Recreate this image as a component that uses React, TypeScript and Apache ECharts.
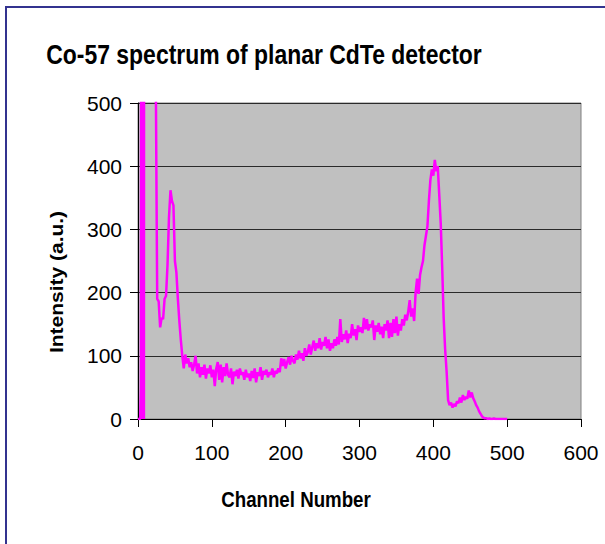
import React, { useEffect, useRef } from "react";
import * as echarts from "echarts";

const chartTitle = "Co-57 spectrum of planar CdTe detector";
const xAxisTitle = "Channel Number";
const yAxisTitle = "Intensity (a.u.)";

const xTicks = [0, 100, 200, 300, 400, 500, 600];
const yTicks = [0, 100, 200, 300, 400, 500];

// low-energy noise burst, channel by channel
const burstChannels = [0, 1, 2, 3, 4, 5, 6, 7, 8, 9, 10, 11, 12];
const burstCounts = [0, 0, 0, 0, 50, 3000, 0, 3000, 0, 3000, 2800, 2600, 2400];

// remaining spectrum sampled every 2 channels, starting at channel 14
const spectrumStart = 14;
const channelStep = 2;
const counts = [
  2100, 1900, 1700, 1500, 1400, 560,
  190, 186, 145, 160, 158, 190, 195, 245, 320, 362, 345, 338, 250,
  232, 190, 155, 125, 100, 80, 102, 88, 96, 82, 90, 76, 86, 100,
  72, 88, 66, 82, 70, 86, 64, 80, 72, 85, 66, 78, 52, 80, 90,
  62, 86, 58, 82, 68, 88, 70, 66, 80, 55, 75, 68, 78, 64, 80,
  70, 74, 62, 78, 66, 72, 60, 76, 65, 80, 58, 74, 68, 82, 62,
  76, 70, 78, 66, 74, 70, 80, 66, 76, 72, 80, 74, 96, 84, 95,
  80, 90, 98, 86, 100, 92, 88, 102, 94, 108, 96, 104, 92, 112, 100,
  106, 118, 102, 114, 124, 108, 120, 112, 128, 110, 122, 116, 130, 112, 126,
  108, 120, 112, 126, 116, 130, 118, 158, 122, 134, 126, 140, 120, 135, 128,
  150, 132, 142, 125, 148, 138, 145, 136, 160, 142, 158, 140, 150, 145, 156,
  125, 148, 138, 152, 134, 146, 128, 150, 140, 156, 128, 152, 130, 158, 136,
  162, 132, 150, 140, 158, 148, 165, 156, 170, 188, 162, 175, 155, 200, 222,
  198, 228, 240, 250, 275, 290, 305, 345, 378, 395, 385, 410, 392, 400, 355,
  310, 240, 160, 110, 75, 30, 22, 26, 18, 24, 20, 28, 25, 34, 26,
  38, 30, 35, 32, 45, 34, 42, 33, 28, 22, 18, 12, 8, 4, 2,
  1, 1, 0, 1, 0, 0, 1, 0, 0, 0, 0, 0, 0, 0, 0, 0,
];

const FONT = "'Liberation Sans', Arial, sans-serif";

export default function App() {
  const ref = useRef<HTMLDivElement>(null);

  useEffect(() => {
    if (!ref.current) return;
    const chart = echarts.init(ref.current, undefined, { renderer: "svg" });
    const data = [
      ...burstChannels.map((c, i) => [c, burstCounts[i]]),
      ...counts.map((v, i) => [spectrumStart + i * channelStep, v]),
    ];
    chart.setOption({
      animation: false,
      backgroundColor: "#ffffff",
      grid: {
        left: 138,
        top: 103,
        width: 443,
        height: 316,
        show: true,
        backgroundColor: "#C0C0C0",
        borderColor: "#808080",
        borderWidth: 1,
      },
      graphic: [
        {
          type: "rect",
          shape: { x: 6, y: 7, width: 900, height: 900 },
          style: { fill: "none", stroke: "#33338F", lineWidth: 2 },
          silent: true,
        },
        {
          type: "text",
          x: 264,
          y: 54,
          scaleX: 0.85,
          style: {
            text: chartTitle,
            font: `bold 27px ${FONT}`,
            fill: "#000",
            textAlign: "center",
            textVerticalAlign: "middle",
          },
        },
        {
          type: "text",
          x: 296,
          y: 499,
          scaleX: 0.85,
          style: {
            text: xAxisTitle,
            font: `bold 22px ${FONT}`,
            fill: "#000",
            textAlign: "center",
            textVerticalAlign: "middle",
          },
        },
        {
          type: "text",
          x: 57,
          y: 282,
          rotation: Math.PI / 2,
          scaleY: 0.85,
          style: {
            text: yAxisTitle,
            font: `bold 21px ${FONT}`,
            fill: "#000",
            textAlign: "center",
            textVerticalAlign: "middle",
          },
        },
      ],
      xAxis: {
        type: "value",
        min: xTicks[0],
        max: xTicks[xTicks.length - 1],
        interval: xTicks[1] - xTicks[0],
        splitLine: { show: false },
        axisLine: { show: true, onZero: false, lineStyle: { color: "#000", width: 1 } },
        axisTick: { show: true, length: 8, lineStyle: { color: "#000" } },
        axisLabel: {
          color: "#000",
          fontSize: 21,
          fontFamily: FONT,
          margin: 23,
        },
      },
      yAxis: {
        type: "value",
        min: yTicks[0],
        max: yTicks[yTicks.length - 1],
        interval: yTicks[1] - yTicks[0],
        splitLine: { show: true, lineStyle: { color: "#2a2a2a", width: 1 } },
        axisLine: { show: true, lineStyle: { color: "#000", width: 1 } },
        axisTick: { show: true, length: 8, lineStyle: { color: "#000" } },
        axisLabel: {
          color: "#000",
          fontSize: 21,
          fontFamily: FONT,
          margin: 16,
        },
      },
      series: [
        {
          type: "line",
          data,
          showSymbol: false,
          clip: true,
          lineStyle: { color: "#FF00FF", width: 2.5 },
          itemStyle: { color: "#FF00FF" },
          z: 5,
        },
      ],
    });
    return () => chart.dispose();
  }, []);

  return (
    <div
      ref={ref}
      style={{ position: "fixed", left: 0, top: 0, width: 605, height: 544 }}
    />
  );
}
